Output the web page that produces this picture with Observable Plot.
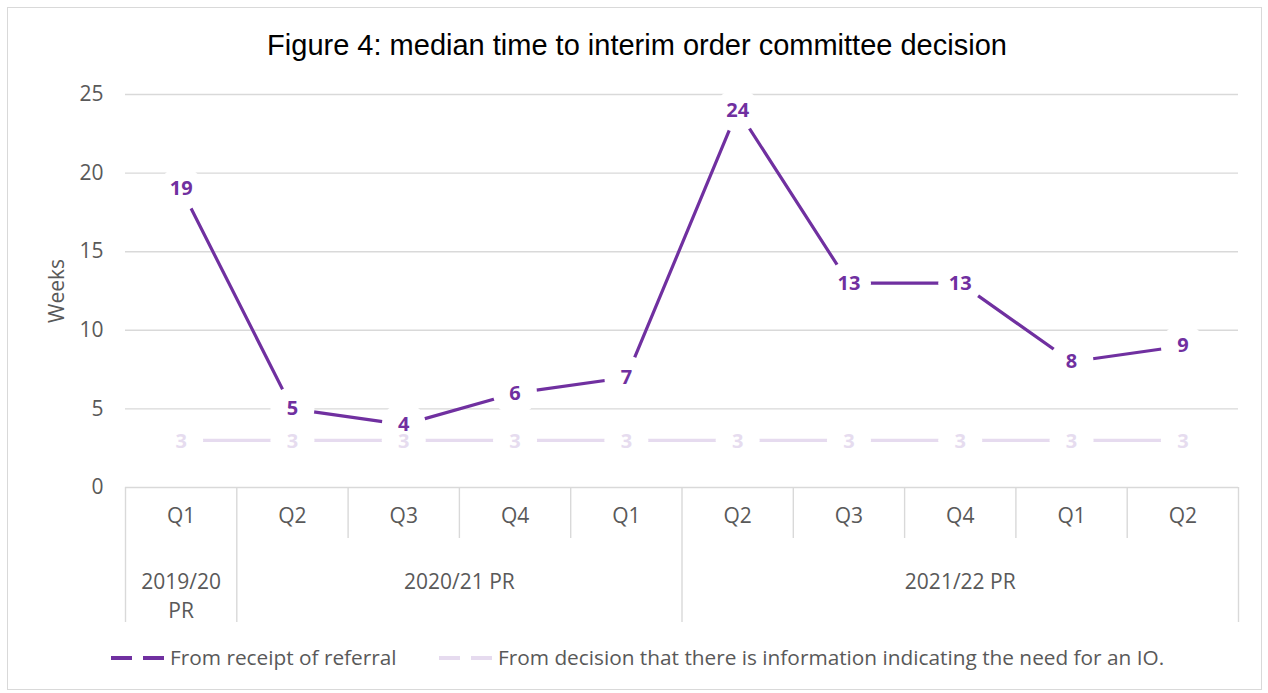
<!DOCTYPE html>
<html>
<head>
<meta charset="utf-8">
<script src="https://cdn.jsdelivr.net/npm/d3@7"></script>
<script src="https://cdn.jsdelivr.net/npm/@observablehq/plot@0.6"></script>
<style>
  body { margin: 0; background: #fff; }
  #wrap { position: relative; width: 1268px; height: 693px; overflow: hidden; }
  #frame { position: absolute; left: 7px; top: 7px; width: 1255px; height: 683px; border: 1.5px solid #d9d9d9; box-sizing: border-box; }
  #title { position: absolute; left: 3px; width: 1268px; top: 31px; text-align: center; font-family: "Liberation Sans", Arial, sans-serif; font-size: 29px; line-height: 29px; color: #000; white-space: nowrap; }
  #legend { position: absolute; top: 645px; left: 0; width: 1268px; height: 26px; font-family: "Open Sans", sans-serif; font-size: 20.8px; line-height: 24px; color: #595959; }
  .item { position: absolute; top: 0; white-space: nowrap; }
  #chart { position: absolute; left: 0; top: 0; }
</style>
</head>
<body>
<div id="wrap">
  <div id="frame"></div>
  <div id="chart"></div>
  <div id="title">Figure 4: median time to interim order committee decision</div>
  <div id="legend"></div>
</div>
<script>
// ---- data ----
const quarters = ["Q1", "Q2", "Q3", "Q4", "Q1", "Q2", "Q3", "Q4", "Q1", "Q2"];
const groupLabels = ["2019/20\nPR", "2020/21 PR", "2021/22 PR"];
const groupSizes = [1, 4, 5];
const fromReferral = [19, 5, 4, 6, 7, 24, 13, 13, 8, 9];
const fromDecision = [3, 3, 3, 3, 3, 3, 3, 3, 3, 3];
const yTicks = [0, 5, 10, 15, 20, 25];
const seriesNames = ["From receipt of referral", "From decision that there is information indicating the need for an IO."];
const seriesColors = ["#7030a0", "#e6dbef"];
const labelColors = ["#7030a0", "#e6dcef"];

// ---- derived tables ----
const pts = (vals) => vals.map((v, i) => ({i, pos: i + 0.5, v}));
const dark = pts(fromReferral);
const light = pts(fromDecision);
const qData = quarters.map((q, i) => ({q, pos: i + 0.5}));
let acc = 0;
const groups = groupLabels.map((g, k) => {
  const start = acc; acc += groupSizes[k];
  return {label: g, start, end: acc, mid: (start + acc) / 2};
});
const longB = new Set([0, ...groups.map(g => g.end)]);
const boundaries = d3.range(0, quarters.length + 1).map(b => ({b, long: longB.has(b)}));

const font = "Open Sans, sans-serif";
const axisColor = "#595959";
const grid = "#d9d9d9";
const plot = Plot.plot({
  width: 1268,
  height: 693,
  marginLeft: 125,
  marginRight: 30,
  marginTop: 94,
  marginBottom: 206,
  style: {fontFamily: font, fontSize: "21px", color: axisColor, background: "transparent"},
  x: {domain: [0, quarters.length], axis: null},
  y: {domain: [0, 25], axis: null},
  marks: [
    Plot.ruleY(yTicks, {stroke: grid, strokeWidth: 1.4}),
    Plot.ruleX(boundaries.filter(d => !d.long), {x: "b", y1: () => 0, y2: () => 0, insetBottom: -51, stroke: grid, strokeWidth: 1.4}),
    Plot.ruleX(boundaries.filter(d => d.long), {x: "b", y1: () => 0, y2: () => 0, insetBottom: -135, stroke: grid, strokeWidth: 1.4}),
    Plot.text(yTicks, {y: d => d, text: d => String(d), frameAnchor: "left", textAnchor: "end", dx: -22, fill: axisColor, fontSize: 21}),
    Plot.text(["Weeks"], {text: d => d, frameAnchor: "left", textAnchor: "middle", dx: -68, rotate: -90, fill: axisColor, fontSize: 21}),
    Plot.text(qData, {x: "pos", text: "q", frameAnchor: "bottom", dy: 35, fill: axisColor, fontSize: 21}),
    Plot.text(groups, {x: "mid", text: "label", frameAnchor: "bottom", lineAnchor: "top", dy: 81, lineHeight: 1.38, fill: axisColor, fontSize: 21}),
    Plot.line(light, {x: "pos", y: "v", stroke: seriesColors[1], strokeWidth: 3.2}),
    Plot.line(dark, {x: "pos", y: "v", stroke: seriesColors[0], strokeWidth: 3.2}),
    Plot.dot(light, {x: "pos", y: "v", r: 22, fill: "white", stroke: null}),
    Plot.dot(dark, {x: "pos", y: "v", r: 22, fill: "white", stroke: null}),
    Plot.text(light, {x: "pos", y: "v", text: d => String(d.v), fill: labelColors[1], fontWeight: "bold", fontSize: 20, dy: 1}),
    Plot.text(dark, {x: "pos", y: "v", text: d => String(d.v), fill: labelColors[0], fontWeight: "bold", fontSize: 20})
  ]
});
document.getElementById("chart").appendChild(plot);

// ---- legend ----
const legend = document.getElementById("legend");
const lefts = [111, 439];
seriesNames.forEach((name, k) => {
  const item = document.createElement("div");
  item.className = "item";
  item.style.left = lefts[k] + "px";
  item.innerHTML = `<svg width="59" height="24" style="vertical-align:top"><line x1="0" x2="54" y1="13" y2="13" stroke="${seriesColors[k]}" stroke-width="4" stroke-dasharray="21 11"/></svg>`;
  const span = document.createElement("span");
  span.textContent = name;
  item.appendChild(span);
  legend.appendChild(item);
});
</script>
</body>
</html>
